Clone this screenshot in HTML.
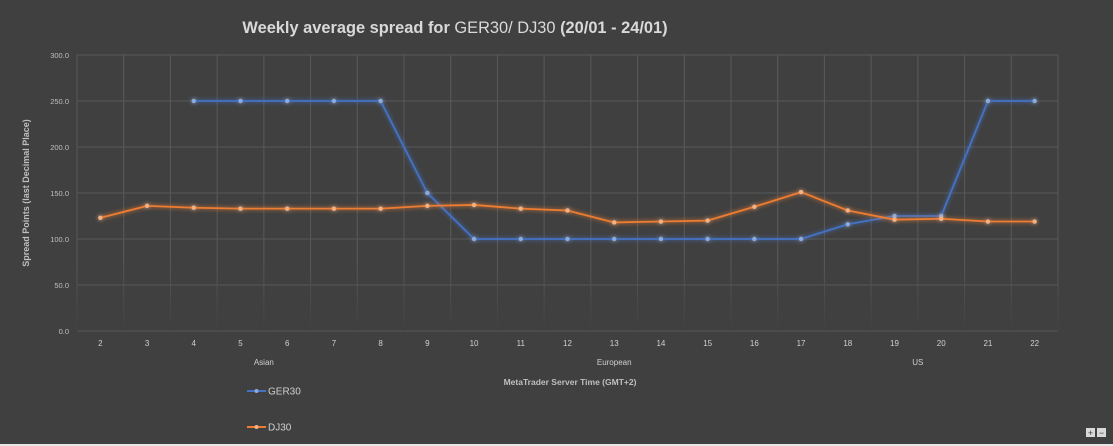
<!DOCTYPE html>
<html><head><meta charset="utf-8"><style>
html,body{margin:0;padding:0;background:#404040;}
svg{display:block;font-family:"Liberation Sans",sans-serif;}
</style></head><body>
<svg id="chart" width="1113" height="446" viewBox="0 0 1113 446">
<defs>
<linearGradient id="vfade" x1="0" y1="0" x2="0" y2="1"><stop offset="0" stop-color="#595959"/><stop offset="0.75" stop-color="#595959"/><stop offset="1" stop-color="#404040"/></linearGradient>
<filter id="glow" x="-5%" y="-20%" width="110%" height="140%"><feGaussianBlur stdDeviation="2" result="b"/><feMerge><feMergeNode in="b"/><feMergeNode in="SourceGraphic"/></feMerge></filter>
</defs>
<rect x="0" y="0" width="1113" height="446" fill="#404040"/>
<text x="455" y="33" text-anchor="middle" font-size="16.4" fill="#d9d9d9" font-weight="bold">Weekly average spread for <tspan font-weight="normal">GER30/ DJ30</tspan>  (20/01 - 24/01)</text>
<g id="grid"></g>
<g id="ylabels" font-size="7.5" fill="#bfbfbf" text-anchor="end"></g>
<g id="xlabels" font-size="8" fill="#d0d0d0" text-anchor="middle"></g>
<g id="series"></g>
<text x="29" y="193" transform="rotate(-90 29 193)" text-anchor="middle" font-size="9" font-weight="bold" fill="#bfbfbf">Spread Points  (last Decimal Place)</text>
<text x="570" y="385" text-anchor="middle" font-size="8.5" font-weight="bold" fill="#bfbfbf">MetaTrader Server Time (GMT+2)</text>
<g><line x1="247" y1="391" x2="266" y2="391" stroke="#4472c4" stroke-width="2"/><circle cx="256.5" cy="391" r="2" fill="#8eaadb"/><text x="268" y="394.5" font-size="10" fill="#d0d0d0">GER30</text></g>
<g><line x1="247" y1="427" x2="266" y2="427" stroke="#ed7d31" stroke-width="2"/><circle cx="256.5" cy="427" r="2" fill="#f4b183"/><text x="268" y="430.5" font-size="10" fill="#d0d0d0">DJ30</text></g>
<rect x="0" y="444" width="1113" height="2" fill="#e6e6e6"/>
<g><rect x="1086" y="428" width="9" height="9" fill="#d9d9d9"/><text x="1090.5" y="436" font-size="9" text-anchor="middle" fill="#404040">+</text></g>
<g><rect x="1097" y="428" width="9" height="9" fill="#d9d9d9"/><text x="1101.5" y="436" font-size="9" text-anchor="middle" fill="#404040">−</text></g>
</svg>
<script>
const categories=[2,3,4,5,6,7,8,9,10,11,12,13,14,15,16,17,18,19,20,21,22];
const ger30=[null,null,250,250,250,250,250,150,100,100,100,100,100,100,100,100,116,125,125,250,250];
const dj30=[123,136,134,133,133,133,133,136,137,133,131,118,119,120,135,151,131,121,122,119,119];
const yTicks=[0,50,100,150,200,250,300];
const yTickLabels=["0.0","50.0","100.0","150.0","200.0","250.0","300.0"];
const groups=["Asian","European","US"];
const groupCenters=[3.5,11,17.5];
const L=77,R=1058,T=55,B=331,yMax=300;
const bw=(R-L)/categories.length;
const X=i=>L+bw*(i+0.5);
const Y=v=>B-(v/yMax)*(B-T);
const NS="http://www.w3.org/2000/svg";
function mk(tag,attrs,parent){const e=document.createElementNS(NS,tag);for(const k in attrs)e.setAttribute(k,attrs[k]);parent.appendChild(e);return e;}
const grid=document.getElementById('grid');
yTicks.forEach((t,i)=>{
 const l=mk('line',{x1:L,x2:R,y1:Y(t),y2:Y(t),stroke:'#595959','stroke-width':1},grid);
 
 
 const tx=mk('text',{x:69,y:Y(t)+3},document.getElementById('ylabels'));
 tx.textContent=yTickLabels[i];
 
 
});
for(let i=0;i<=categories.length;i++){
 const l=mk('rect',{x:L+bw*i-0.5,y:T,width:1,height:B-T,fill:'url(#vfade)'},grid);
 
 
}
categories.forEach((c,i)=>{
 const t=mk('text',{x:X(i),y:346},document.getElementById('xlabels'));
 t.textContent=c;
 
 
});
groups.forEach((g,i)=>{
 const t=mk('text',{x:X(groupCenters[i]),y:365},document.getElementById('xlabels'));
 t.textContent=g;
 
 
});
function drawSeries(vals,color,dot,name){
 const g=mk('g',{filter:'url(#glow)'},document.getElementById('series'));
 
 
 let d='';let started=false;
 vals.forEach((v,i)=>{if(v==null){started=false;return;}d+=(started?'L':'M')+X(i)+' '+Y(v)+' ';started=true;});
 const p=mk('path',{d:d,fill:'none',stroke:color,'stroke-width':1.8},g);
 
 
 vals.forEach((v,i)=>{if(v==null)return;
  const c=mk('circle',{cx:X(i),cy:Y(v),r:2.2,fill:dot},g);
  
  
 });
}
drawSeries(ger30,'#4472c4','#8eaadb','ger30');
drawSeries(dj30,'#ed7d31','#f4b183','dj30');
</script>
</body></html>
